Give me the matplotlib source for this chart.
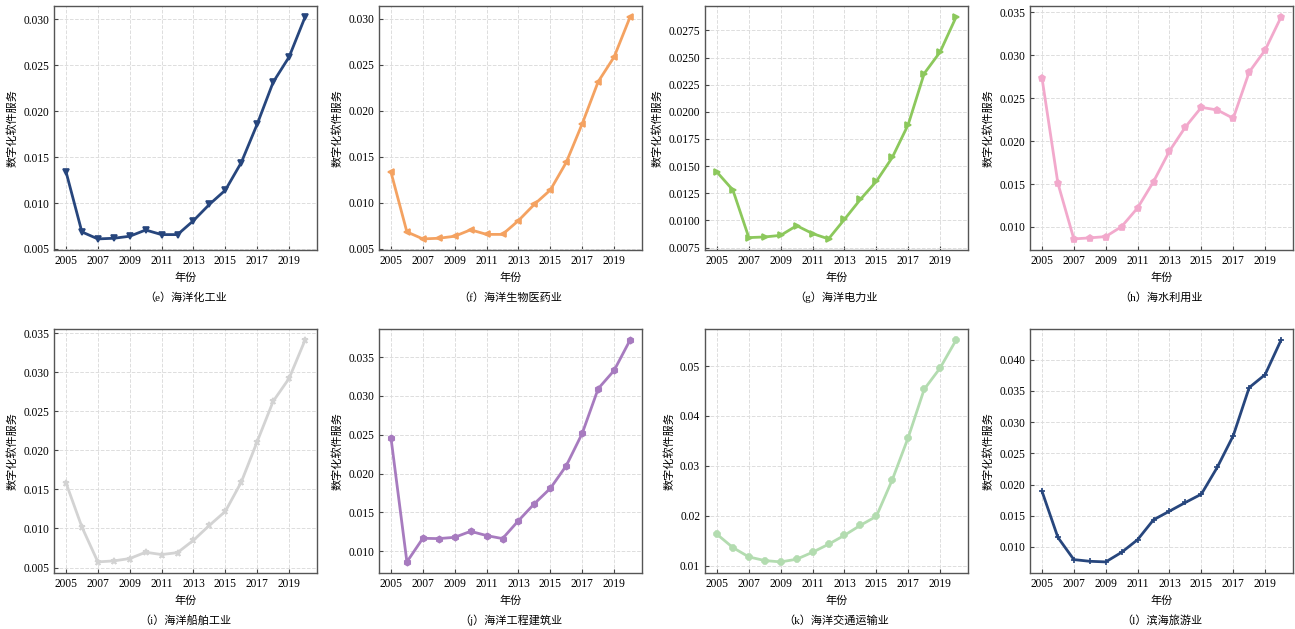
import matplotlib
matplotlib.use("Agg")
import matplotlib.pyplot as plt

plt.rcParams['font.family'] = ['Liberation Serif', 'Noto Sans CJK SC', 'DejaVu Sans']
plt.rcParams['axes.unicode_minus'] = False

# 年份
years = list(range(2005, 2021))

# 各产业的数字化软件服务
chem = [0.01343, 0.00685, 0.00609, 0.00616, 0.00638, 0.00706, 0.00656, 0.00656,
        0.00808, 0.00985, 0.0114, 0.01441, 0.0186, 0.02316, 0.02591, 0.03025]
bio = [0.01335, 0.00685, 0.00609, 0.00616, 0.00638, 0.00708, 0.00658, 0.00658,
       0.00808, 0.00985, 0.0114, 0.01441, 0.0186, 0.02316, 0.02585, 0.03018]
power = [0.01445, 0.0128, 0.00842, 0.00848, 0.00863, 0.00952, 0.00879, 0.0083,
         0.0101, 0.01194, 0.0136, 0.0158, 0.01883, 0.02352, 0.02551, 0.02872]
water = [0.02739, 0.01509, 0.0086, 0.00872, 0.00887, 0.01004, 0.01221, 0.01528,
         0.01885, 0.02165, 0.02394, 0.02363, 0.02266, 0.02805, 0.03061, 0.03446]
ship = [0.01585, 0.01019, 0.00572, 0.00585, 0.00615, 0.00696, 0.00666, 0.00691,
        0.00849, 0.0104, 0.01219, 0.01594, 0.02113, 0.02628, 0.02921, 0.03411]
build = [0.02462, 0.00863, 0.01167, 0.01163, 0.0118, 0.01257, 0.01202, 0.01163,
         0.01394, 0.01613, 0.0181, 0.02102, 0.02518, 0.03093, 0.03328, 0.03719]
trans = [0.01627, 0.0136, 0.01173, 0.011, 0.01073, 0.01127, 0.01267, 0.01427,
         0.01607, 0.01807, 0.01987, 0.0272, 0.03567, 0.04533, 0.0496, 0.0552]
tour = [0.01894, 0.01154, 0.00798, 0.00771, 0.00761, 0.00915, 0.01117, 0.01436,
        0.01574, 0.01713, 0.01846, 0.02277, 0.02782, 0.03553, 0.03761, 0.04314]

series = [chem, bio, power, water, ship, build, trans, tour]
captions = ["（e）海洋化工业", "（f）海洋生物医药业", "（g）海洋电力业", "（h）海水利用业",
            "（i）海洋船舶工业", "（j）海洋工程建筑业", "（k）海洋交通运输业", "（l）滨海旅游业"]
colors = ['#27467d', '#f4a261', '#8cc85c', '#f2a9cc',
          '#d3d3d3', '#a77bbf', '#b3dcb0', '#27467d']
markers = ['v', '<', '>', 'p', '*', 'h', '8', '+']

fig = plt.figure(figsize=(12.95, 6.29), dpi=100)

lefts = [54, 379, 705, 1030]
for i, vals in enumerate(series):
    row, col = divmod(i, 4)
    bottom_px = 250 if row == 0 else 573
    ax = fig.add_axes([lefts[col] / 1295, 1 - bottom_px / 629, 263 / 1295, 244 / 629])
    ax.plot(years, vals, color=colors[i], marker=markers[i], markersize=4.5,
            linewidth=2, markeredgewidth=1.2)
    ax.set_xticks(range(2005, 2021, 2))
    ax.tick_params(direction='in', labelsize=8.3, length=3, color='#444444')
    ax.grid(True, linestyle='--', color='#dddddd', linewidth=0.7)
    ax.set_axisbelow(True)
    for s in ax.spines.values():
        s.set_color('#555555')
        s.set_linewidth(1.0)
    ax.set_xlabel("年份", fontsize=8, labelpad=4)
    ax.set_ylabel("数字化软件服务", fontsize=8)
    ax.text(0.5, -0.195, captions[i], transform=ax.transAxes, ha='center', va='center',
            fontsize=8)

fig.savefig("out.png", dpi=100)
